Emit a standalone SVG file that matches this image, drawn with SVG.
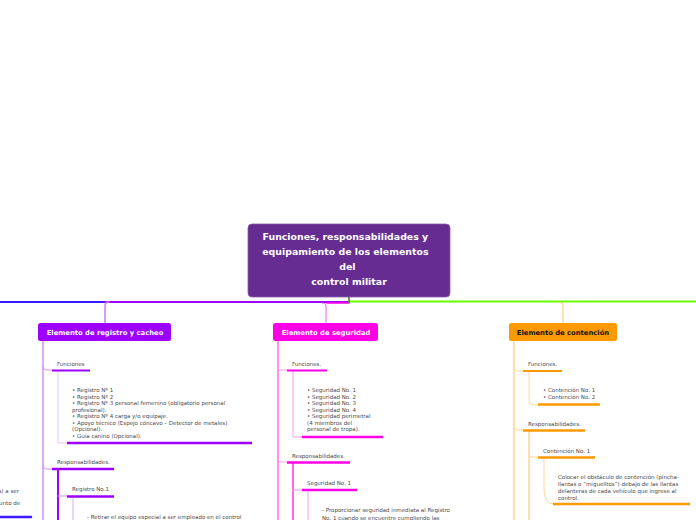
<svg xmlns="http://www.w3.org/2000/svg" width="696" height="520" viewBox="0 0 696 520">
<style>
.t{font-family:"DejaVu Sans","Verdana",sans-serif;font-size:5.5px;fill:#4a4a4a}
.h{font-family:"DejaVu Sans","Verdana",sans-serif;font-weight:bold;font-size:6.8px;fill:#fff;text-anchor:middle}
.c{fill:none;stroke-linecap:round}
</style>
<rect width="696" height="520" fill="#fff"/>
<g id="connectors">
<path class="c" d="M0 302 H105" stroke="#3a1aff" stroke-width="1.8"/>
<path class="c" d="M105 302 H349" stroke="#9e00ff" stroke-width="1.8"/>
<path class="c" d="M327 303 H349" stroke="#ff00e6" stroke-width="1.5"/>
<path class="c" d="M349 301.5 H696" stroke="#66ff00" stroke-width="2"/>
<path class="c" d="M349 297 V302" stroke="#4a7a1a" stroke-width="1.5"/>
<path class="c" d="M105 323 V306 Q105 302 109 302" stroke="#c67dff" stroke-width="1.5"/>
<path class="c" d="M326 323 V306 Q326 303 322 303" stroke="#ff55ee" stroke-width="1"/>
<path class="c" d="M563 323 V306 Q563 302 559 302" stroke="#ffc070" stroke-width="1"/>
<!-- registro -->
<path class="c" d="M43 341 V520" stroke="#cf8fff" stroke-width="1.5"/>
<path class="c" d="M43 366 Q43 370 47 370 H52" stroke="#cf8fff" stroke-width="1"/>
<path class="c" d="M43 465 Q43 469 47 469 H52" stroke="#cf8fff" stroke-width="1"/>
<path class="c" d="M58 371 V443 H67" stroke="#e6c6ff" stroke-width="1"/>
<path class="c" d="M58 469 V520" stroke="#9e00ff" stroke-width="2"/>
<path class="c" d="M58 496 H67" stroke="#cf8fff" stroke-width="1"/>
<path class="c" d="M73 497 V520" stroke="#e6c6ff" stroke-width="1.5"/>
<!-- seguridad -->
<path class="c" d="M278 341 V520" stroke="#ff44ee" stroke-width="1.2"/>
<path class="c" d="M278 370 H287" stroke="#ff99f4" stroke-width="1"/>
<path class="c" d="M278 462 H287" stroke="#ff99f4" stroke-width="1"/>
<path class="c" d="M293 371 V437 H302" stroke="#ff99f4" stroke-width="1"/>
<path class="c" d="M293 462 V520" stroke="#ff00e6" stroke-width="1.2"/>
<path class="c" d="M293 490 H302" stroke="#ff99f4" stroke-width="1"/>
<path class="c" d="M308 491 V520" stroke="#ff99f4" stroke-width="1"/>
<!-- contencion -->
<path class="c" d="M514 341 V520" stroke="#ffd699" stroke-width="1.5"/>
<path class="c" d="M514 367 Q514 371 518 371 H523" stroke="#ffd699" stroke-width="1"/>
<path class="c" d="M514 426 Q514 430 518 430 H523" stroke="#ffd699" stroke-width="1"/>
<path class="c" d="M529 371 V401 Q529 405 533 405 H538" stroke="#ffd699" stroke-width="1"/>
<path class="c" d="M529 430 V520" stroke="#ffd699" stroke-width="1.5"/>
<path class="c" d="M529 457 H538" stroke="#ffd699" stroke-width="1"/>
<path class="c" d="M544 458 V490 Q545 504 553 504" stroke="#ffd699" stroke-width="1"/>
<!-- left off-screen branch -->
<path class="c" d="M0 517 H31" stroke="#3a1aff" stroke-width="2.5"/>
</g>
<g id="central">
<rect x="248" y="224" width="202" height="73" rx="4" fill="#672c91" stroke="#8a5ab0" stroke-width="0.8"/>
<text font-family="DejaVu Sans, Verdana, sans-serif" font-weight="bold" font-size="9.4" fill="#fff" text-anchor="middle">
<tspan x="347" y="240">Funciones, responsabilidades y</tspan>
<tspan x="347" y="255">equipamiento de los elementos</tspan>
<tspan x="349" y="270">del</tspan>
<tspan x="349" y="285">control militar</tspan>
</text>
</g>
<g id="registro">
<rect x="38" y="323" width="133" height="18" rx="2.5" fill="#9e00ff"/>
<text class="h" x="105" y="334.5">Elemento de registro y cacheo</text>
</g>
<g id="seguridad">
<rect x="273" y="323" width="105" height="18" rx="2.5" fill="#ff00e6"/>
<text class="h" x="326" y="334.5">Elemento de seguridad</text>
</g>
<g id="contencion">
<rect x="509" y="323" width="108" height="18" rx="2.5" fill="#ff9900"/>
<text class="h" x="563" y="334.5" style="fill:#111">Elemento de contención</text>
</g>
<g id="reg-funciones">
<text class="t" x="57" y="366">Funciones</text>
<line x1="52" y1="370.5" x2="90" y2="370.5" stroke="#9e00ff" stroke-width="2"/>
</g>
<g id="reg-funciones-list">
<text class="t">
<tspan x="72" y="392">• Registro Nº 1</tspan>
<tspan x="72" y="398.5">• Registro Nº 2</tspan>
<tspan x="72" y="405">• Registro Nº 3 personal femenino (obligatorio personal</tspan>
<tspan x="72" y="411.5">profesional).</tspan>
<tspan x="72" y="418">• Registro Nº 4 carga y/o equipaje.</tspan>
<tspan x="72" y="424.5">• Apoyo técnico (Espejo cóncavo – Detector de metales)</tspan>
<tspan x="72" y="431">(Opcional).</tspan>
<tspan x="72" y="437.5">• Guía canino (Opcional).</tspan>
</text>
<line x1="67" y1="443" x2="252" y2="443" stroke="#9e00ff" stroke-width="2.5"/>
</g>
<g id="reg-resp">
<text class="t" x="57" y="464">Responsabilidades.</text>
<line x1="52" y1="469" x2="114" y2="469" stroke="#9e00ff" stroke-width="2.5"/>
</g>
<g id="reg-registro1">
<text class="t" x="72" y="491">Registro No.1</text>
<line x1="67" y1="496.5" x2="114" y2="496.5" stroke="#9e00ff" stroke-width="2.5"/>
</g>
<g id="reg-registro1-text">
<text class="t" x="87" y="519">- Retirar el equipo especial a ser empleado en el control</text>
</g>
<g id="left-branch">
<text class="t"><tspan x="-2" y="493">a) a ser</tspan><tspan x="-1" y="505">unto de</tspan></text>
</g>
<g id="seg-funciones">
<text class="t" x="292" y="366">Funciones.</text>
<line x1="287" y1="370.5" x2="327" y2="370.5" stroke="#ff00e6" stroke-width="2"/>
</g>
<g id="seg-funciones-list">
<text class="t">
<tspan x="307" y="392">• Seguridad No. 1</tspan>
<tspan x="307" y="398.5">• Seguridad No. 2</tspan>
<tspan x="307" y="405">• Seguridad No. 3</tspan>
<tspan x="307" y="411.5">• Seguridad No. 4</tspan>
<tspan x="307" y="418">• Seguridad perimetral</tspan>
<tspan x="307" y="424.5">(4 miembros del</tspan>
<tspan x="307" y="431">personal de tropa).</tspan>
</text>
<line x1="302" y1="437" x2="383" y2="437" stroke="#ff00e6" stroke-width="2.5"/>
</g>
<g id="seg-resp">
<text class="t" x="292" y="458">Responsabilidades.</text>
<line x1="287" y1="462.5" x2="350" y2="462.5" stroke="#ff00e6" stroke-width="2.5"/>
</g>
<g id="seg-seguridad1">
<text class="t" x="307" y="485">Seguridad No. 1</text>
<line x1="302" y1="490" x2="357" y2="490" stroke="#ff00e6" stroke-width="2.5"/>
</g>
<g id="seg-seguridad1-text">
<text class="t"><tspan x="322" y="512">- Proporcionar seguridad inmediata al Registro</tspan><tspan x="322" y="519.5">No. 1 cuando se encuentre cumpliendo las</tspan></text>
</g>
<g id="con-funciones">
<text class="t" x="528" y="366">Funciones.</text>
<line x1="523" y1="371" x2="562" y2="371" stroke="#ff9900" stroke-width="2"/>
</g>
<g id="con-funciones-list">
<text class="t"><tspan x="543" y="392">• Contención No. 1</tspan><tspan x="543" y="398.5">• Contención No. 2</tspan></text>
<line x1="538" y1="404.5" x2="600" y2="404.5" stroke="#ff9900" stroke-width="2.5"/>
</g>
<g id="con-resp">
<text class="t" x="528" y="426">Responsabilidades.</text>
<line x1="523" y1="430.5" x2="585" y2="430.5" stroke="#ff9900" stroke-width="2.5"/>
</g>
<g id="con-contencion1">
<text class="t" x="543" y="452.5">Contención No. 1</text>
<line x1="538" y1="457.5" x2="595" y2="457.5" stroke="#ff9900" stroke-width="2.5"/>
</g>
<g id="con-contencion1-text">
<text class="t">
<tspan x="558" y="479">Colocar el obstáculo de contención (pincha-</tspan>
<tspan x="558" y="486">llantas o “miguelitos”) debajo de las llantas</tspan>
<tspan x="558" y="493">delanteras de cada vehículo que ingrese al</tspan>
<tspan x="558" y="500">control.</tspan>
</text>
<line x1="553" y1="504" x2="690" y2="504" stroke="#ff9900" stroke-width="2.5"/>
</g>
</svg>
